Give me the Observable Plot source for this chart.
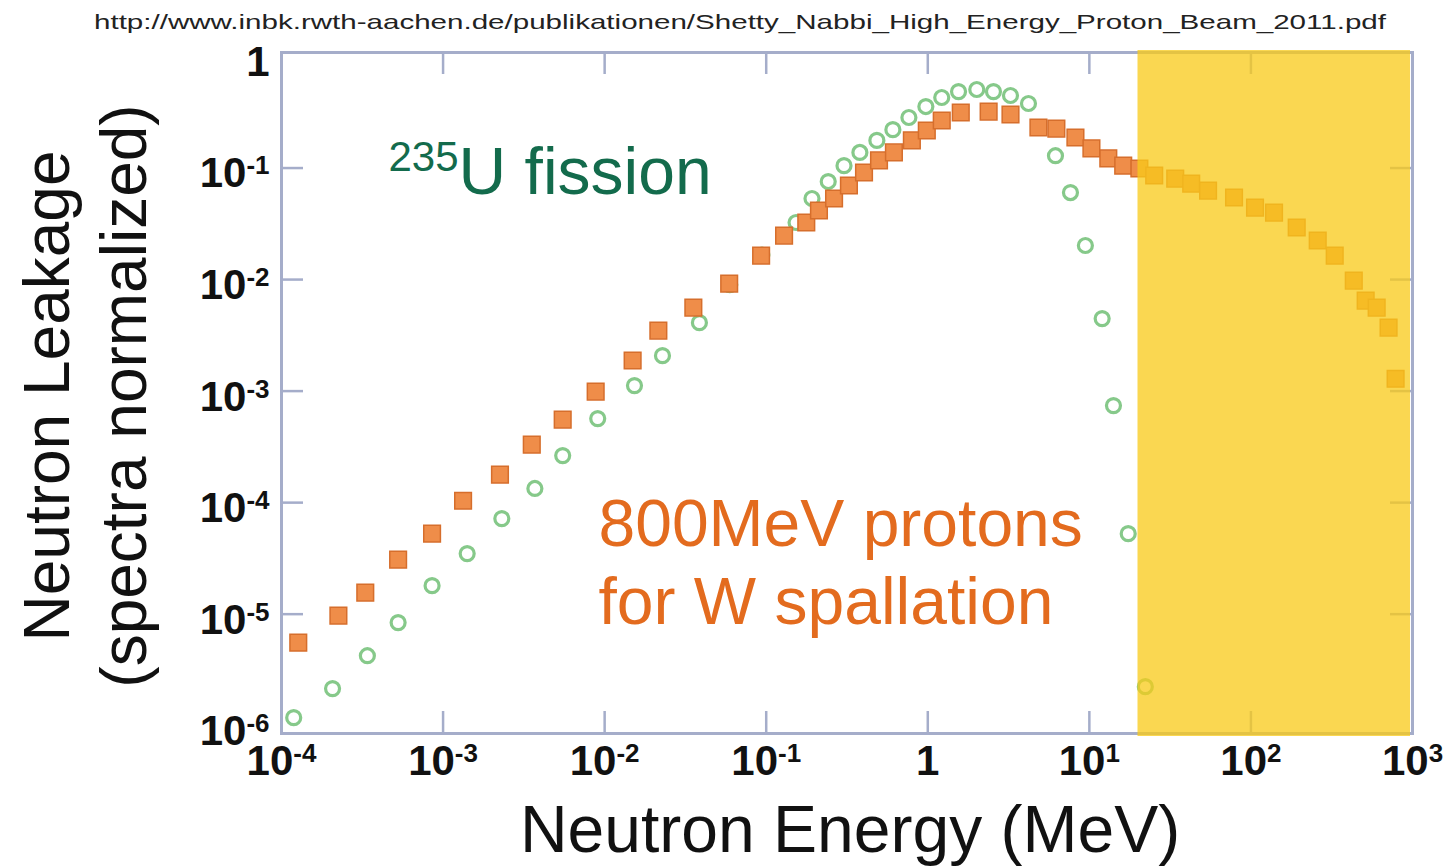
<!DOCTYPE html>
<html>
<head>
<meta charset="utf-8">
<script src="https://cdn.jsdelivr.net/npm/d3@7"></script>
<script src="https://cdn.jsdelivr.net/npm/@observablehq/plot@0.6"></script>
<style>
  html, body { margin: 0; padding: 0; background: #ffffff; }
  #chart { width: 1445px; height: 866px; overflow: hidden; }
</style>
</head>
<body>
<div id="chart"></div>
<script>
// ---- Data ----
const sourceUrl = "http://www.inbk.rwth-aachen.de/publikationen/Shetty_Nabbi_High_Energy_Proton_Beam_2011.pdf";
const xTitle = "Neutron Energy (MeV)";
const yTitle = "Neutron Leakage\n(spectra normalized)";
const fissionLabel = "{235}U fission";
const spallationLabel = "800MeV protons\nfor W spallation";

const xTicks = [1e-4, 1e-3, 1e-2, 1e-1, 1, 1e1, 1e2, 1e3];
const yTicks = [1e-6, 1e-5, 1e-4, 1e-3, 1e-2, 1e-1, 1];
const highlightRange = [20, 1000]; // MeV, shaded band

// 800 MeV protons on W (spallation) – orange squares
const spallEnergy = [1.27e-4, 2.25e-4, 3.3e-4, 5.27e-4, 8.55e-4, 1.33e-3, 2.25e-3, 3.54e-3, 5.5e-3, 8.8e-3,
  1.49e-2, 2.15e-2, 3.54e-2, 5.9e-2, 9.3e-2, 0.129, 0.177, 0.212, 0.263, 0.325, 0.403, 0.499, 0.617, 0.797,
  0.986, 1.22, 1.60, 2.38, 3.25, 4.84, 6.25, 8.2, 10.3, 13.1, 16.2, 20.4, 25.2, 34.0, 42.7, 54.3, 78.6,
  106, 139, 192, 259, 330, 433, 513, 600, 711, 786];
const spallLeak = [5.55e-6, 9.7e-6, 1.56e-5, 3.08e-5, 5.27e-5, 1.04e-4, 1.78e-4, 3.31e-4, 5.55e-4, 9.9e-4,
  1.88e-3, 3.49e-3, 5.61e-3, 9.2e-3, 1.64e-2, 2.48e-2, 3.25e-2, 4.16e-2, 5.33e-2, 6.97e-2, 0.0912, 0.117, 0.138, 0.177,
  0.217, 0.267, 0.315, 0.321, 0.302, 0.231, 0.226, 0.188, 0.150, 0.122, 0.105, 0.099, 0.0857, 0.0805, 0.0726, 0.0628, 0.0544,
  0.0442, 0.0399, 0.0293, 0.0224, 0.0164, 9.8e-3, 6.48e-3, 5.61e-3, 3.71e-3, 1.29e-3];

// 235U fission – green open circles
const fissionEnergy = [1.19e-4, 2.07e-4, 3.40e-4, 5.27e-4, 8.55e-4, 1.41e-3, 2.31e-3, 3.70e-3, 5.5e-3, 9.06e-3,
  1.53e-2, 2.28e-2, 3.86e-2, 5.95e-2, 9.4e-2, 0.153, 0.192, 0.242, 0.303, 0.380, 0.484, 0.608, 0.764, 0.973,
  1.22, 1.55, 2.01, 2.55, 3.25, 4.20, 6.17, 7.64, 9.45, 12.0, 14.1, 17.4, 22.2];
const fissionLeak = [1.18e-6, 2.15e-6, 4.24e-6, 8.4e-6, 1.80e-5, 3.49e-5, 7.19e-5, 1.34e-4, 2.64e-4, 5.67e-4,
  1.12e-3, 2.08e-3, 4.11e-3, 9.0e-3, 1.66e-2, 3.25e-2, 5.33e-2, 7.57e-2, 0.105, 0.138, 0.177, 0.221, 0.284, 0.356,
  0.429, 0.485, 0.506, 0.485, 0.447, 0.379, 0.129, 0.0603, 0.0202, 4.47e-3, 7.41e-4, 5.27e-5, 2.24e-6];

// ---- Build tables ----
const spall = spallEnergy.map((e, i) => ({energy: e, leak: spallLeak[i]}));
const fission = fissionEnergy.map((e, i) => ({energy: e, leak: fissionLeak[i]}));

// ---- Layout ----
const W = 1445, H = 866;
const mL = 281, mR = 33, mT = 52, mB = 133;
const plotW = W - mL - mR, plotH = H - mT - mB;
const tickLen = 22;
const frameColor = "#A5ADCA";
const font = "'Liberation Sans', Arial, Helvetica, sans-serif";

const fmt = d => {
  const e = Math.round(Math.log10(d));
  return e === 0 ? "1" : `10^${e}`;
};
const innerX = xTicks.filter(d => d > xTicks[0] && d < xTicks[xTicks.length - 1]);
const innerY = yTicks.filter(d => d > yTicks[0] && d < yTicks[yTicks.length - 1]);

const chart = Plot.plot({
  width: W,
  height: H,
  marginLeft: mL,
  marginRight: mR,
  marginTop: mT,
  marginBottom: mB,
  style: {fontFamily: font, background: "#ffffff", overflow: "visible", color: "#111"},
  x: {type: "log", domain: [1e-4, 1e3]},
  y: {type: "log", domain: [Math.pow(10, -6.07), Math.pow(10, 0.036)]},
  marks: [
    Plot.frame({stroke: frameColor, strokeWidth: 3}),
    // inward ticks on all four sides
    Plot.ruleX(innerX, {x: d => d, insetBottom: plotH - tickLen, stroke: frameColor, strokeWidth: 2.5}),
    Plot.ruleX(innerX, {x: d => d, insetTop: plotH - tickLen, stroke: frameColor, strokeWidth: 2.5}),
    Plot.ruleY(innerY, {y: d => d, insetRight: plotW - tickLen, stroke: frameColor, strokeWidth: 2.5}),
    Plot.ruleY(innerY, {y: d => d, insetLeft: plotW - tickLen, stroke: frameColor, strokeWidth: 2.5}),
    Plot.axisX(xTicks, {anchor: "bottom", tickSize: 0, tickPadding: 12, tickFormat: fmt, label: null,
      fontSize: 42, fontWeight: "bold", fill: "#111"}),
    Plot.axisY(yTicks, {anchor: "left", tickSize: 0, tickPadding: 12, tickFormat: fmt, label: null,
      fontSize: 42, fontWeight: "bold", fill: "#111", dy: 6}),
    // data
    Plot.dot(fission, {x: "energy", y: "leak", r: 7, stroke: "#86C98A", strokeWidth: 3.2, fill: "none"}),
    Plot.dot(spall, {x: "energy", y: "leak", symbol: "square", r: 9.4, fill: "#EF8D49", stroke: "#D66E2C", strokeWidth: 1.5}),
    // highlighted band
    Plot.rect([highlightRange], {x1: d => d[0], x2: d => d[1], fill: "#F8CB1A", fillOpacity: 0.76,
      insetTop: -2, insetBottom: -3, insetRight: 2}),
    // annotations
    Plot.text([fissionLabel], {text: d => d, frameAnchor: "top-left", dx: 107, dy: 141,
      textAnchor: "start", lineAnchor: "bottom", fontSize: 66, fill: "#136B4C"}),
    Plot.text([spallationLabel], {text: d => d, frameAnchor: "top-left", dx: 317, dy: 571,
      textAnchor: "start", lineAnchor: "bottom", lineHeight: 1.18, fontSize: 66, fill: "#E36B1E"}),
    // titles
    Plot.text([xTitle], {text: d => d, frameAnchor: "bottom", dx: 3, dy: 118, lineAnchor: "bottom",
      fontSize: 66, fill: "#111"}),
    Plot.text([yTitle], {text: d => d, frameAnchor: "left", dx: -136, dy: 3, rotate: -90,
      textAnchor: "middle", lineAnchor: "bottom", lineHeight: 1.2, fontSize: 64, fill: "#111"}),
    Plot.text([sourceUrl], {text: d => d, frameAnchor: "top", dx: -107, dy: -24, lineAnchor: "bottom",
      fontSize: 21, fill: "#222"})
  ]
});

// ---- Superscripts and URL stretch ----
const NS = "http://www.w3.org/2000/svg";
chart.querySelectorAll("text").forEach(t => {
  if (t.querySelector("tspan")) return;
  const s = t.textContent;
  let m = s.match(/^(10)\^(-?\d+)$/);
  if (m) {
    t.textContent = "";
    const a = document.createElementNS(NS, "tspan");
    a.textContent = m[1];
    const b = document.createElementNS(NS, "tspan");
    b.textContent = m[2];
    b.setAttribute("font-size", "26");
    b.setAttribute("dy", "-13");
    t.appendChild(a); t.appendChild(b);
    return;
  }
  m = s.match(/^\{(\d+)\}(.*)$/);
  if (m) {
    t.textContent = "";
    const a = document.createElementNS(NS, "tspan");
    a.textContent = m[1];
    a.setAttribute("font-size", "42");
    a.setAttribute("dy", "-23");
    const b = document.createElementNS(NS, "tspan");
    b.textContent = m[2];
    b.setAttribute("dy", "23");
    t.appendChild(a); t.appendChild(b);
    return;
  }
  if (s.startsWith("http")) {
    t.setAttribute("textLength", "1292");
    t.setAttribute("lengthAdjust", "spacingAndGlyphs");
  }
});

document.getElementById("chart").appendChild(chart);
</script>
</body>
</html>
